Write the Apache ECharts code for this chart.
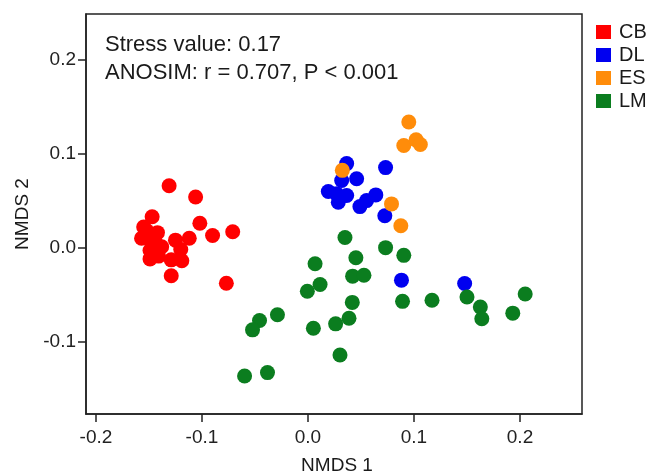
<!DOCTYPE html>
<html>
<head>
<meta charset="utf-8">
<script src="https://cdn.jsdelivr.net/npm/echarts@6/dist/echarts.min.js"></script>
<style>
  html, body { margin: 0; padding: 0; background: #fff; }
  #chart { width: 648px; height: 475px; }
</style>
</head>
<body>
<div id="chart"></div>
<script>
// NMDS 坐标，按组
var cbX = [-0.131, -0.106, -0.147, -0.102, -0.155, -0.142, -0.090, -0.071, -0.157, -0.125, -0.112, -0.147, -0.138, -0.120, -0.149, -0.141, -0.129, -0.119, -0.149, -0.129, -0.077, -0.152, -0.144];
var cbY = [0.066, 0.054, 0.033, 0.026, 0.022, 0.016, 0.013, 0.017, 0.010, 0.008, 0.010, 0.005, 0.001, -0.002, -0.003, -0.009, -0.013, -0.014, -0.012, -0.030, -0.038, 0.018, 0.006];

var dlX = [0.0365, 0.0732, 0.0459, 0.0318, 0.0192, 0.0271, 0.0365, 0.0286, 0.0640, 0.0553, 0.0490, 0.0725, 0.0882, 0.1478];
var dlY = [0.0897, 0.0854, 0.0735, 0.0717, 0.0599, 0.0574, 0.0556, 0.0484, 0.0563, 0.0502, 0.0438, 0.0341, -0.0347, -0.0383];

var esX = [0.0951, 0.0904, 0.102, 0.106, 0.0324, 0.0788, 0.0876];
var esY = [0.134, 0.109, 0.115, 0.110, 0.0825, 0.0467, 0.0233];

var lmX = [0.0349, 0.0732, 0.0904, 0.0452, 0.0067, 0.0421, 0.0528, 0.0114, -0.0006, 0.0418, 0.0892, -0.0288, -0.0457, -0.0523, 0.0051, 0.0261, 0.0387, 0.0302, -0.0598, -0.0382, 0.117, 0.150, 0.1626, 0.164, 0.1932, 0.2049];
var lmY = [0.0108, 0.0, -0.0082, -0.0108, -0.0172, -0.0304, -0.0294, -0.0394, -0.0466, -0.0584, -0.0573, -0.0716, -0.0777, -0.0877, -0.086, -0.0813, -0.0753, -0.1146, -0.1369, -0.1333, -0.0562, -0.0527, -0.0634, -0.0759, -0.0699, -0.0495];

var groupNames = ['CB', 'DL', 'ES', 'LM'];
var groupColors = ['#ff0000', '#0000f0', '#ff8c0a', '#0b7d1f'];
var xTicks = [-0.2, -0.1, 0, 0.1, 0.2];
var yTicks = [-0.1, 0, 0.1, 0.2];

var FONT = 'Liberation Sans, Arial, sans-serif';

var pairs = function (xs, ys) {
    var out = [];
    xs.map(function (x, i) { out.push([x, ys[i]]); });
    return out;
};
var groupData = [pairs(cbX, cbY), pairs(dlX, dlY), pairs(esX, esY), pairs(lmX, lmY)];

var myChart = echarts.init(document.getElementById('chart'), null, { renderer: 'canvas' });

var series = groupNames.map(function (name, i) {
    return {
        name: name,
        type: 'scatter',
        symbol: 'circle',
        symbolSize: 15,
        itemStyle: { color: groupColors[i], opacity: 1 },
        data: groupData[i]
    };
});

var option = {
    animation: false,
    backgroundColor: '#fff',
    textStyle: { fontFamily: FONT },
    title: {
        text: 'Stress value: 0.17\nANOSIM: r = 0.707, P < 0.001',
        left: 100,
        top: 26,
        textStyle: { fontFamily: FONT, fontSize: 22, fontWeight: 'normal', color: '#1a1a1a', lineHeight: 28 }
    },
    legend: {
        orient: 'vertical',
        left: 591,
        top: 17,
        itemWidth: 15,
        itemHeight: 14,
        itemGap: 3,
        icon: 'rect',
        data: groupNames,
        textStyle: { fontFamily: FONT, fontSize: 20, color: '#1a1a1a', lineHeight: 20, padding: [0, 0, 0, 3] }
    },
    grid: {
        left: 86, right: 66, top: 14, bottom: 61,
        show: true,
        borderColor: '#222',
        borderWidth: 1.5,
        containLabel: false,
        outerBoundsMode: 'none'
    },
    xAxis: {
        type: 'value',
        min: -0.2094,
        max: 0.2585,
        name: 'NMDS 1',
        nameLocation: 'middle',
        nameGap: 42,
        nameTextStyle: { fontFamily: FONT, fontSize: 19, color: '#1a1a1a', padding: [0, 0, 0, 6] },
        axisLine: { show: true, onZero: false, lineStyle: { color: '#222', width: 1.5 } },
        axisTick: { show: true, length: 8, customValues: xTicks, lineStyle: { color: '#222', width: 1.5 } },
        axisLabel: {
            customValues: xTicks,
            margin: 14,
            fontFamily: FONT, fontSize: 19, color: '#222',
            formatter: function (v) { return v.toFixed(1); }
        },
        splitLine: { show: false }
    },
    yAxis: {
        type: 'value',
        min: -0.1775,
        max: 0.2493,
        name: 'NMDS 2',
        nameLocation: 'middle',
        nameRotate: 90,
        nameGap: 52,
        nameTextStyle: { fontFamily: FONT, fontSize: 19, color: '#1a1a1a' },
        axisLine: { show: true, onZero: false, lineStyle: { color: '#222', width: 1.5 } },
        axisTick: { show: true, length: 8, customValues: yTicks, lineStyle: { color: '#222', width: 1.5 } },
        axisLabel: {
            customValues: yTicks,
            margin: 10,
            fontFamily: FONT, fontSize: 19, color: '#222',
            formatter: function (v) { return v.toFixed(1); }
        },
        splitLine: { show: false }
    },
    series: series
};

myChart.setOption(option);
</script>
</body>
</html>
